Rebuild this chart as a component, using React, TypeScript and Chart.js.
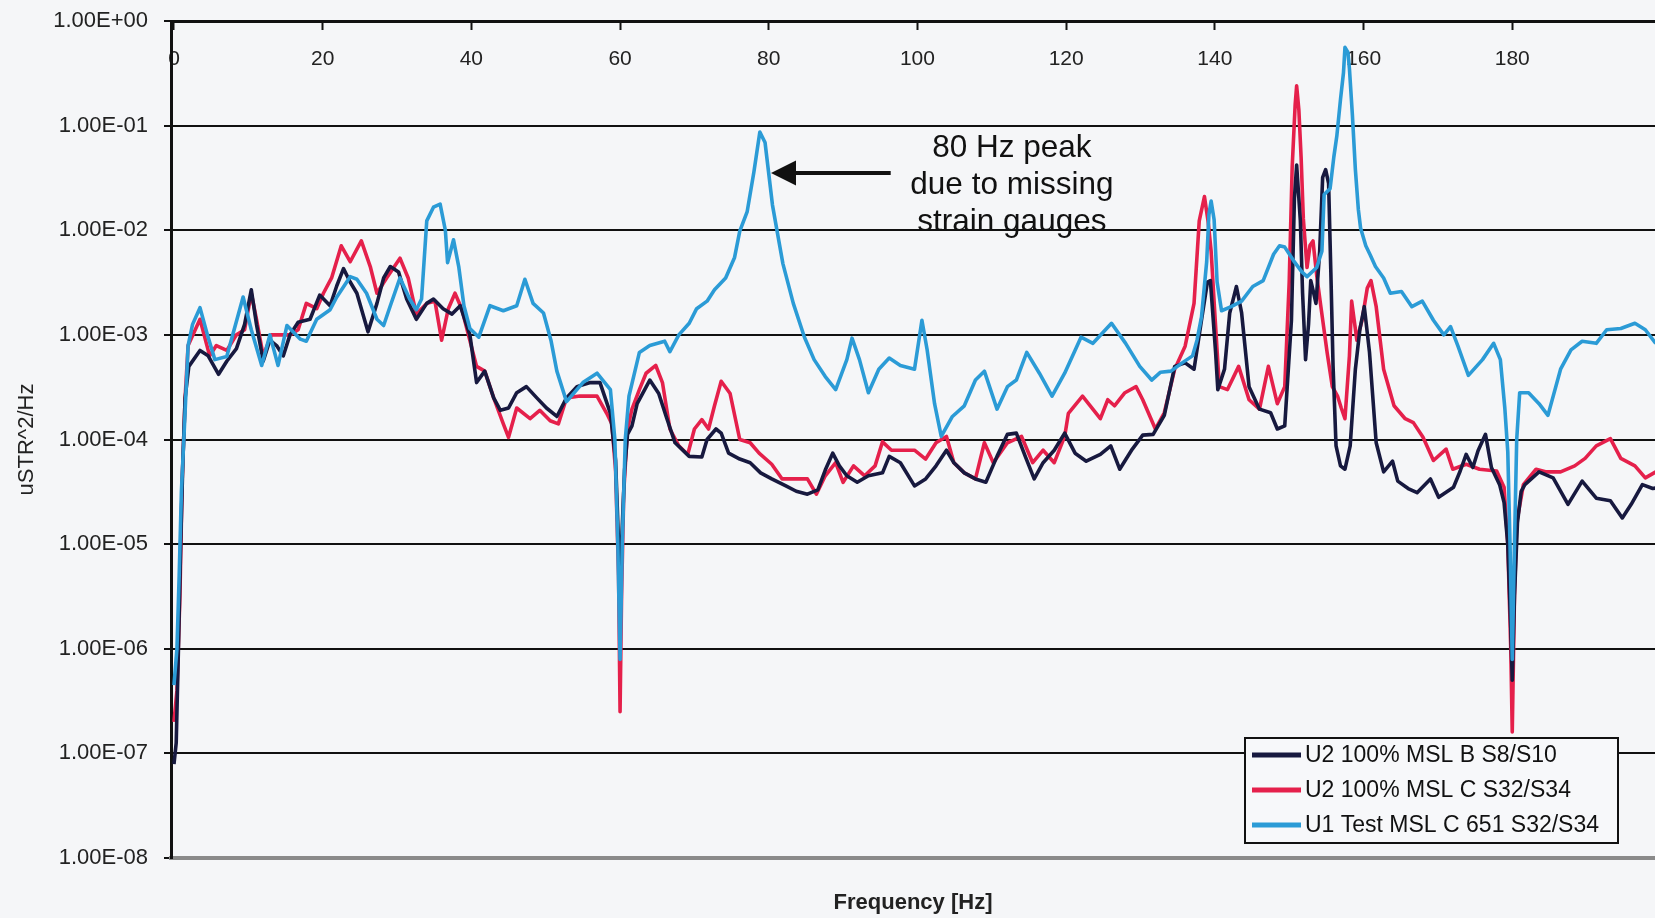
import React, { useEffect, useRef } from 'react';
import { Chart, registerables } from 'chart.js';

Chart.register(...registerables);

const FONT = '"Liberation Sans", Arial, Helvetica, sans-serif';

// ---- labels / ticks ----
const seriesLabels = ['U2 100% MSL B S8/S10', 'U2 100% MSL C S32/S34', 'U1 Test MSL C 651 S32/S34'];
const seriesColors = ['#17193f', '#e5204b', '#2b9bd6'];
const xTickValues = [0, 20, 40, 60, 80, 100, 120, 140, 160, 180];
const yTickValues = [1e-8, 1e-7, 1e-6, 1e-5, 1e-4, 1e-3, 1e-2, 1e-1, 1];
const yTickLabels = ['1.00E-08', '1.00E-07', '1.00E-06', '1.00E-05', '1.00E-04', '1.00E-03', '1.00E-02', '1.00E-01', '1.00E+00'];
const xTitle = 'Frequency [Hz]';
const yTitle = 'uSTR^2/Hz';
const noteLines = ['80 Hz peak', 'due to missing', 'strain gauges'];

// ---- U2 100% MSL B S8/S10 (black) ----
const bFreq = [
  0, 0.3, 0.6, 0.9, 1.2, 1.5, 2.0, 3.5, 4.6, 6.0,
  7.1, 8.4, 9.5, 10.4, 11.1, 12.0, 12.9, 13.8, 14.7, 15.6,
  16.7, 18.3, 19.6, 21.0, 21.9, 22.8, 23.7, 24.6, 26.1, 27.3,
  28.2, 29.1, 30.2, 31.3, 32.6, 34.0, 34.9, 36.2, 37.4, 38.5,
  39.8, 40.7, 41.8, 43.0, 43.9, 45.0, 46.1, 47.4, 48.8, 50.1,
  51.5, 52.8, 54.2, 56.0, 57.3, 58.7, 59.4, 59.8, 60.0, 60.2,
  60.6, 61.0, 61.6, 62.3, 64.0, 65.2, 66.2, 67.4, 69.3, 71.0,
  71.7, 72.9, 73.6, 74.6, 76.1, 77.5, 78.9, 80.4, 82.3, 83.7,
  85.2, 86.6, 87.6, 88.6, 89.5, 90.5, 91.9, 93.4, 95.3, 96.2,
  97.7, 99.6, 101.1, 102.5, 103.9, 104.9, 106.3, 107.8, 109.2, 110.7,
  112.1, 113.3, 114.5, 115.7, 116.9, 118.4, 119.8, 121.2, 122.7, 124.6,
  126.0, 127.2, 128.9, 130.3, 131.7, 133.2, 134.6, 136.0, 137.2, 138.2,
  139.0, 139.4, 140.1, 140.4, 141.3, 142.0, 142.9, 143.6, 144.6, 146.0,
  147.5, 148.4, 149.4, 150.3, 150.7, 151.0, 151.5, 151.8, 152.2, 152.6,
  152.9, 153.3, 153.6, 154.1, 154.5, 154.9, 155.3, 155.6, 155.9, 156.3,
  156.9, 157.5, 158.2, 158.9, 159.5, 160.1, 160.8, 161.7, 162.7, 163.9,
  164.6, 166.0, 167.2, 169.0, 170.1, 172.1, 173.0, 173.8, 174.7, 175.4,
  176.4, 177.2, 178.3, 178.9, 179.4, 179.8, 180.0, 180.3, 180.7, 181.2,
  181.7, 183.6, 185.5, 187.5, 189.4, 191.3, 193.2, 194.8, 196.0, 197.5,
  198.9, 200,
];
const bPsd = [
  7.9e-8, 1.26e-7, 1e-6, 1e-5, 6.3e-5, 2.5e-4, 5.0e-4, 7.1e-4, 6.3e-4, 4.2e-4,
  5.6e-4, 7.4e-4, 1.26e-3, 2.7e-3, 1.26e-3, 5.6e-4, 8.9e-4, 7.9e-4, 6.3e-4, 1.0e-3,
  1.32e-3, 1.41e-3, 2.4e-3, 1.9e-3, 2.95e-3, 4.3e-3, 3.2e-3, 2.5e-3, 1.07e-3, 2.0e-3,
  3.5e-3, 4.5e-3, 4.0e-3, 2.2e-3, 1.41e-3, 2.0e-3, 2.2e-3, 1.78e-3, 1.58e-3, 1.9e-3,
  1.0e-3, 3.5e-4, 4.5e-4, 2.5e-4, 1.9e-4, 2.0e-4, 2.8e-4, 3.2e-4, 2.5e-4, 2.0e-4,
  1.66e-4, 2.5e-4, 3.2e-4, 3.5e-4, 3.5e-4, 1.78e-4, 6.3e-5, 1e-5, 2.5e-6, 1e-5,
  5e-5, 1.12e-4, 1.35e-4, 2.2e-4, 3.7e-4, 2.75e-4, 1.66e-4, 9.3e-5, 6.9e-5, 6.8e-5,
  1e-4, 1.26e-4, 1.15e-4, 7.4e-5, 6.5e-5, 6.0e-5, 4.8e-5, 4.2e-5, 3.6e-5, 3.2e-5,
  3.0e-5, 3.3e-5, 5.1e-5, 7.4e-5, 5.6e-5, 4.5e-5, 3.9e-5, 4.5e-5, 4.8e-5, 6.9e-5,
  6.0e-5, 3.6e-5, 4.2e-5, 5.6e-5, 7.9e-5, 6.0e-5, 4.8e-5, 4.2e-5, 3.9e-5, 6.9e-5,
  1.12e-4, 1.15e-4, 6.9e-5, 4.2e-5, 6.0e-5, 7.9e-5, 1.15e-4, 7.4e-5, 6.2e-5, 7.2e-5,
  8.7e-5, 5.2e-5, 8.1e-5, 1.1e-4, 1.12e-4, 1.7e-4, 5.0e-4, 5.4e-4, 4.7e-4, 1.38e-3,
  3.2e-3, 3.3e-3, 6.8e-4, 3.0e-4, 4.7e-4, 1.62e-3, 2.9e-3, 1.62e-3, 3.2e-4, 1.95e-4,
  1.8e-4, 1.26e-4, 1.35e-4, 1.38e-3, 2.0e-2, 4.2e-2, 1.23e-2, 2.5e-3, 5.8e-4, 1.26e-3,
  3.3e-3, 2.5e-3, 2.0e-3, 6.3e-3, 3.2e-2, 3.8e-2, 2.8e-2, 4.0e-3, 5.0e-4, 8.7e-5,
  5.6e-5, 5.2e-5, 8.7e-5, 4.7e-4, 1.12e-3, 1.86e-3, 6.8e-4, 9.3e-5, 4.9e-5, 6.2e-5,
  4.0e-5, 3.4e-5, 3.1e-5, 4.2e-5, 2.8e-5, 3.5e-5, 5.0e-5, 7.2e-5, 5.4e-5, 7.8e-5,
  1.12e-4, 5.4e-5, 3.7e-5, 2.5e-5, 1e-5, 1.6e-6, 5e-7, 3.2e-6, 1.6e-5, 3.2e-5,
  3.7e-5, 4.9e-5, 4.3e-5, 2.4e-5, 4.0e-5, 2.75e-5, 2.6e-5, 1.78e-5, 2.4e-5, 3.7e-5,
  3.4e-5, 3.5e-5,
];

// ---- U2 100% MSL C S32/S34 (red) ----
const rFreq = [
  0, 0.4, 0.8, 1.1, 1.5, 1.9, 3.5, 4.8, 5.7, 7.1,
  8.4, 9.5, 10.4, 11.1, 12.0, 13.1, 14.5, 15.6, 16.7, 17.8,
  19.2, 20.1, 21.2, 22.5, 23.7, 25.2, 26.4, 27.3, 28.6, 30.4,
  31.5, 32.6, 34.0, 35.1, 36.0, 36.9, 37.8, 38.7, 39.6, 40.7,
  41.8, 43.0, 44.3, 45.0, 46.1, 47.9, 49.2, 50.6, 51.7, 52.8,
  54.6, 56.9, 58.2, 58.9, 59.4, 59.8, 60.0, 60.2, 60.5, 61.0,
  61.6, 62.6, 63.5, 64.8, 65.7, 66.7, 67.9, 69.1, 70.0, 71.0,
  71.9, 72.7, 73.6, 74.8, 76.1, 77.5, 78.7, 80.4, 81.8, 83.3,
  85.2, 86.4, 87.6, 89.0, 90.0, 91.4, 92.9, 94.3, 95.3, 96.5,
  98.2, 99.6, 101.1, 102.5, 103.9, 104.9, 106.3, 107.8, 109.0, 110.2,
  112.1, 114.0, 115.5, 116.9, 118.4, 119.8, 120.3, 122.2, 124.6, 125.6,
  126.5, 127.9, 129.4, 130.3, 132.0, 133.2, 134.6, 136.0, 137.2, 137.9,
  138.6, 139.1, 139.5, 140.0, 140.6, 141.7, 143.2, 144.6, 146.0, 147.2,
  148.4, 149.4, 150.0, 150.4, 150.8, 151.0, 151.3, 151.6, 151.9, 152.4,
  152.8, 153.2, 153.7, 154.2, 155.1, 155.8, 156.5, 157.0, 157.5, 158.1,
  158.4, 159.1, 159.8, 160.5, 161.0, 161.7, 162.7, 164.1, 165.6, 166.7,
  168.0, 169.4, 171.1, 172.0, 173.8, 175.6, 177.9, 178.9, 179.4, 179.8,
  180.0, 180.3, 180.6, 181.5, 183.2, 184.6, 186.5, 188.4, 189.8, 191.3,
  193.2, 194.6, 196.5, 197.9, 199.3, 200,
];
const rPsd = [
  2.0e-7, 4.0e-7, 3.2e-6, 4.0e-5, 2.5e-4, 7.9e-4, 1.41e-3, 6.3e-4, 7.9e-4, 7.1e-4,
  1.0e-3, 1.12e-3, 2.5e-3, 1.41e-3, 6.3e-4, 1.0e-3, 1.0e-3, 1.0e-3, 1.12e-3, 2.0e-3,
  1.78e-3, 2.5e-3, 3.5e-3, 7.1e-3, 5.0e-3, 7.9e-3, 4.5e-3, 2.5e-3, 3.5e-3, 5.4e-3,
  3.5e-3, 1.58e-3, 2.0e-3, 2.1e-3, 8.9e-4, 1.78e-3, 2.5e-3, 1.78e-3, 1.0e-3, 5.0e-4,
  4.5e-4, 2.5e-4, 1.41e-4, 1.05e-4, 2.0e-4, 1.58e-4, 1.9e-4, 1.51e-4, 1.41e-4, 2.5e-4,
  2.6e-4, 2.6e-4, 1.78e-4, 1.41e-4, 5.0e-5, 5.0e-6, 2.5e-7, 3.2e-6, 3.2e-5, 1.26e-4,
  1.95e-4, 3.0e-4, 4.3e-4, 5.1e-4, 3.5e-4, 1.26e-4, 8.7e-5, 7.2e-5, 1.26e-4, 1.55e-4,
  1.26e-4, 2.1e-4, 3.6e-4, 2.75e-4, 1.0e-4, 9.3e-5, 7.4e-5, 5.8e-5, 4.2e-5, 4.2e-5,
  4.2e-5, 3.0e-5, 4.5e-5, 6.0e-5, 3.9e-5, 5.6e-5, 4.5e-5, 5.6e-5, 9.5e-5, 7.9e-5,
  7.9e-5, 7.9e-5, 6.5e-5, 9.3e-5, 1.07e-4, 6.0e-5, 4.8e-5, 4.2e-5, 9.3e-5, 6.0e-5,
  9.3e-5, 1.07e-4, 6.0e-5, 7.9e-5, 6.0e-5, 1.07e-4, 1.78e-4, 2.6e-4, 1.58e-4, 2.4e-4,
  2.1e-4, 2.8e-4, 3.2e-4, 2.4e-4, 1.26e-4, 1.8e-4, 4.7e-4, 7.8e-4, 2.0e-3, 1.23e-2,
  2.1e-2, 1.2e-2, 6.3e-3, 1.58e-3, 3.2e-4, 3.0e-4, 5.0e-4, 2.4e-4, 1.95e-4, 5.0e-4,
  2.2e-4, 3.2e-4, 3.2e-3, 4.0e-2, 1.58e-1, 2.4e-1, 1.41e-1, 5.0e-2, 1.29e-2, 4.4e-3,
  7.2e-3, 7.9e-3, 3.7e-3, 2.0e-3, 6.8e-4, 3.2e-4, 2.6e-4, 2.0e-4, 1.58e-4, 6.3e-4,
  2.1e-3, 8.9e-4, 1.38e-3, 2.8e-3, 3.3e-3, 1.86e-3, 4.7e-4, 2.1e-4, 1.58e-4, 1.45e-4,
  1.05e-4, 6.3e-5, 8.1e-5, 5.2e-5, 5.8e-5, 5.2e-5, 5.0e-5, 3.5e-5, 1e-5, 1e-6,
  1.6e-7, 3.2e-6, 1.6e-5, 3.7e-5, 5.2e-5, 4.9e-5, 4.9e-5, 5.6e-5, 6.6e-5, 8.7e-5,
  1.02e-4, 6.6e-5, 5.6e-5, 4.3e-5, 4.9e-5, 5.0e-5,
];

// ---- U1 Test MSL C 651 S32/S34 (blue) ----
const uFreq = [
  0, 0.4, 0.7, 1.0, 1.5, 1.9, 2.5, 3.5, 4.5, 5.5,
  7.1, 9.3, 10.4, 11.8, 12.9, 14.0, 15.2, 17.0, 17.8, 19.2,
  21.0, 21.9, 23.7, 24.6, 25.9, 27.3, 28.2, 29.1, 30.4, 31.7,
  32.6, 33.3, 34.0, 34.9, 35.8, 36.5, 36.8, 37.6, 38.3, 39.0,
  39.8, 41.0, 42.5, 44.3, 46.1, 47.2, 48.3, 49.7, 50.7, 51.5,
  52.8, 55.0, 56.9, 58.7, 59.3, 59.7, 60.0, 60.3, 60.7, 61.2,
  62.6, 64.0, 66.0, 66.7, 67.9, 69.3, 70.3, 71.7, 72.7, 74.2,
  75.4, 76.1, 77.1, 78.0, 78.8, 79.5, 80.5, 81.9, 83.3, 84.8,
  86.1, 87.6, 89.0, 90.5, 91.2, 92.2, 93.4, 94.8, 96.2, 97.7,
  99.6, 100.6, 101.3, 102.3, 103.2, 104.7, 106.3, 107.8, 109.0, 110.7,
  112.1, 113.3, 114.7, 116.4, 118.1, 119.8, 122.0, 123.6, 126.1, 128.0,
  129.9, 131.5, 132.7, 134.1, 135.6, 137.0, 137.6, 138.2, 138.9, 139.2,
  139.5, 139.9, 140.3, 140.9, 142.2, 143.6, 145.1, 146.5, 147.9, 148.7,
  149.4, 150.6, 151.7, 152.4, 153.7, 154.4, 154.7, 155.5, 156.0, 156.4,
  156.9, 157.3, 157.5, 157.9, 158.1, 158.5, 158.9, 159.3, 159.6, 160.3,
  160.9, 161.6, 162.7, 163.6, 165.1, 166.5, 167.9, 169.4, 170.8, 171.7,
  172.7, 174.1, 176.0, 177.5, 178.4, 179.0, 179.4, 179.7, 180.0, 180.3,
  180.6, 181.0, 182.2, 183.6, 184.8, 186.5, 187.9, 189.4, 191.3, 192.7,
  194.6, 196.5, 197.9, 199.3, 200,
];
const uPsd = [
  4.5e-7, 1e-6, 5.0e-6, 3.2e-5, 1.86e-4, 7.9e-4, 1.26e-3, 1.82e-3, 1.0e-3, 5.8e-4,
  6.2e-4, 2.3e-3, 1.12e-3, 5.1e-4, 1.0e-3, 5.1e-4, 1.23e-3, 9.1e-4, 8.7e-4, 1.41e-3,
  1.74e-3, 2.3e-3, 3.6e-3, 3.4e-3, 2.5e-3, 1.41e-3, 1.23e-3, 1.9e-3, 3.5e-3, 2.2e-3,
  1.74e-3, 2.2e-3, 1.23e-2, 1.66e-2, 1.78e-2, 1.0e-2, 4.9e-3, 8.1e-3, 4.5e-3, 1.9e-3,
  1.15e-3, 9.5e-4, 1.9e-3, 1.7e-3, 1.9e-3, 3.4e-3, 2.0e-3, 1.62e-3, 8.9e-4, 4.5e-4,
  2.3e-4, 3.5e-4, 4.3e-4, 3.0e-4, 1.0e-4, 1e-5, 7.9e-7, 1e-5, 1.0e-4, 2.6e-4,
  6.8e-4, 7.9e-4, 8.7e-4, 6.9e-4, 1.0e-3, 1.29e-3, 1.78e-3, 2.1e-3, 2.7e-3, 3.5e-3,
  5.5e-3, 9.8e-3, 1.51e-2, 3.6e-2, 8.7e-2, 6.9e-2, 1.74e-2, 4.8e-3, 2.0e-3, 9.5e-4,
  5.8e-4, 4.0e-4, 3.0e-4, 5.8e-4, 9.3e-4, 5.8e-4, 2.8e-4, 4.7e-4, 6.0e-4, 5.1e-4,
  4.7e-4, 1.38e-3, 7.2e-4, 2.2e-4, 1.07e-4, 1.66e-4, 2.1e-4, 3.7e-4, 4.5e-4, 1.95e-4,
  3.2e-4, 3.7e-4, 6.8e-4, 4.3e-4, 2.6e-4, 4.3e-4, 9.5e-4, 8.3e-4, 1.29e-3, 8.3e-4,
  5.0e-4, 3.7e-4, 4.4e-4, 4.5e-4, 5.4e-4, 6.3e-4, 8.9e-4, 1.48e-3, 5.0e-3, 1.41e-2,
  1.9e-2, 1.26e-2, 3.2e-3, 1.7e-3, 1.86e-3, 2.1e-3, 2.9e-3, 3.3e-3, 5.9e-3, 7.1e-3,
  6.9e-3, 5.1e-3, 4.0e-3, 3.6e-3, 4.4e-3, 6.3e-3, 2.2e-2, 2.5e-2, 5.0e-2, 7.9e-2,
  1.78e-1, 3.2e-1, 5.6e-1, 5.0e-1, 3.5e-1, 1.26e-1, 3.8e-2, 1.58e-2, 1.05e-2, 7.1e-3,
  5.8e-3, 4.5e-3, 3.5e-3, 2.5e-3, 2.6e-3, 1.86e-3, 2.1e-3, 1.38e-3, 1.0e-3, 1.2e-3,
  7.8e-4, 4.1e-4, 5.8e-4, 8.3e-4, 5.8e-4, 2.0e-4, 7.6e-5, 1e-5, 7.9e-7, 1e-5,
  1e-4, 2.8e-4, 2.8e-4, 2.2e-4, 1.7e-4, 4.7e-4, 7.2e-4, 8.7e-4, 8.3e-4, 1.12e-3,
  1.15e-3, 1.29e-3, 1.12e-3, 8.3e-4, 7.9e-4,
];

const seriesFreq = [bFreq, rFreq, uFreq];
const seriesPsd = [bPsd, rPsd, uPsd];
const drawOrder = [2, 3, 1]; // blue on top, then black, red underneath

// annotation anchor (data units)
const noteX = 112.7;
const noteY = [0.0605, 0.0268, 0.0119];
const arrowTip = { x: 80.3, y: 0.0352 };
const arrowTailX = 96.4;

const X_MIN = -0.4;
const X_MAX = 199.2;

const backgroundPlugin = {
  id: 'paper',
  beforeDraw(chart: any) {
    const { ctx, width, height } = chart;
    ctx.save();
    ctx.fillStyle = '#f5f6f8';
    ctx.fillRect(0, 0, width, height);
    ctx.restore();
  },
};

const notePlugin = {
  id: 'peakNote',
  afterDatasetsDraw(chart: any) {
    const { ctx } = chart;
    const x = chart.scales.x;
    const y = chart.scales.y;
    ctx.save();
    ctx.fillStyle = '#111';
    ctx.font = `31.5px ${FONT}`;
    ctx.textAlign = 'center';
    ctx.textBaseline = 'middle';
    noteLines.forEach((t, i) => {
      ctx.fillText(t, x.getPixelForValue(noteX), y.getPixelForValue(noteY[i]));
    });
    const tx = x.getPixelForValue(arrowTip.x);
    const ty = y.getPixelForValue(arrowTip.y);
    const ex = x.getPixelForValue(arrowTailX);
    ctx.strokeStyle = '#111';
    ctx.lineWidth = 4;
    ctx.beginPath();
    ctx.moveTo(ex, ty);
    ctx.lineTo(tx + 20, ty);
    ctx.stroke();
    ctx.beginPath();
    ctx.moveTo(tx, ty);
    ctx.lineTo(tx + 25, ty - 12.5);
    ctx.lineTo(tx + 25, ty + 12.5);
    ctx.closePath();
    ctx.fill();
    ctx.restore();
  },
};

const legendPlugin = {
  id: 'boxLegend',
  afterDraw(chart: any) {
    const { ctx, chartArea } = chart;
    const right = chartArea.right - 37;
    const bottom = chartArea.bottom - 15;
    const w = 373;
    const h = 105;
    const left = right - w;
    const top = bottom - h;
    ctx.save();
    ctx.fillStyle = '#f7f8fa';
    ctx.fillRect(left, top, w, h);
    ctx.strokeStyle = '#111';
    ctx.lineWidth = 2;
    ctx.strokeRect(left, top, w, h);
    ctx.font = `23px ${FONT}`;
    ctx.textAlign = 'left';
    ctx.textBaseline = 'middle';
    seriesLabels.forEach((label, i) => {
      const cy = top + 17 + i * 35;
      ctx.strokeStyle = seriesColors[i];
      ctx.lineWidth = 5;
      ctx.beginPath();
      ctx.moveTo(left + 7, cy);
      ctx.lineTo(left + 56, cy);
      ctx.stroke();
      ctx.fillStyle = '#111';
      ctx.fillText(label, left + 60, cy + 1);
    });
    ctx.restore();
  },
};

export default function App() {
  const ref = useRef<HTMLCanvasElement>(null);
  useEffect(() => {
    if (!ref.current) return;
    const datasets = seriesLabels.map((label, i) => ({
      label,
      data: seriesFreq[i].map((f, j) => ({ x: f, y: seriesPsd[i][j] })),
      borderColor: seriesColors[i],
      backgroundColor: seriesColors[i],
      borderWidth: 3.6,
      pointRadius: 0,
      tension: 0,
      fill: false,
      borderJoinStyle: 'round' as const,
      order: drawOrder[i],
    }));
    const chart = new Chart(ref.current, {
      type: 'line',
      data: { datasets },
      plugins: [backgroundPlugin, notePlugin, legendPlugin],
      options: {
        responsive: false,
        animation: false,
        devicePixelRatio: 1,
        layout: { padding: 0 },
        plugins: { legend: { display: false }, tooltip: { enabled: false } },
        scales: {
          x: {
            type: 'linear',
            position: 'top',
            min: X_MIN,
            max: X_MAX,
            afterFit: (s: any) => { s.height = 21; s.paddingLeft = 0; s.paddingRight = 0; },
            afterBuildTicks: (s: any) => { s.ticks = xTickValues.map((v) => ({ value: v })); },
            grid: { drawOnChartArea: false, drawTicks: true, tickLength: -9, tickColor: '#111', tickWidth: 2 },
            border: { display: true, color: '#111', width: 3 },
            ticks: { mirror: true, padding: 26, color: '#222', font: { family: FONT, size: 21 }, maxRotation: 0, autoSkip: false },
          },
          x2: {
            type: 'linear',
            position: 'bottom',
            min: X_MIN,
            max: X_MAX,
            afterFit: (s: any) => { s.height = 60; s.paddingLeft = 0; s.paddingRight = 0; },
            grid: { display: false },
            ticks: { display: false },
            border: { display: true, color: '#8a8a8a', width: 4 },
            title: { display: true, text: xTitle, color: '#222', font: { family: FONT, size: 22, weight: 'bold' }, padding: { top: 0, bottom: 2 } },
          },
          y: {
            type: 'logarithmic',
            position: 'left',
            min: 1e-8,
            max: 1,
            afterFit: (s: any) => { s.width = 171; s.paddingTop = 0; s.paddingBottom = 0; },
            afterBuildTicks: (s: any) => { s.ticks = yTickValues.map((v) => ({ value: v })); },
            grid: {
              color: (c: any) => (c.tick && c.tick.value === 1e-8 ? 'rgba(0,0,0,0)' : '#111'),
              lineWidth: 2,
              tickLength: 7,
              tickColor: '#111',
              tickWidth: 2,
            },
            border: { display: true, color: '#111', width: 3 },
            ticks: {
              padding: 16,
              color: '#222',
              font: { family: FONT, size: 22 },
              autoSkip: false,
              callback: (_v: any, i: number) => yTickLabels[i],
            },
            title: { display: true, text: yTitle, color: '#222', font: { family: FONT, size: 22 }, padding: { top: 14, bottom: 0 } },
          },
        },
      } as any,
    });
    return () => chart.destroy();
  }, []);
  return (
    <div style={{ position: 'fixed', left: 0, top: 0, width: 1655, height: 918 }}>
      <canvas ref={ref} width={1655} height={918} style={{ display: 'block' }} />
    </div>
  );
}
